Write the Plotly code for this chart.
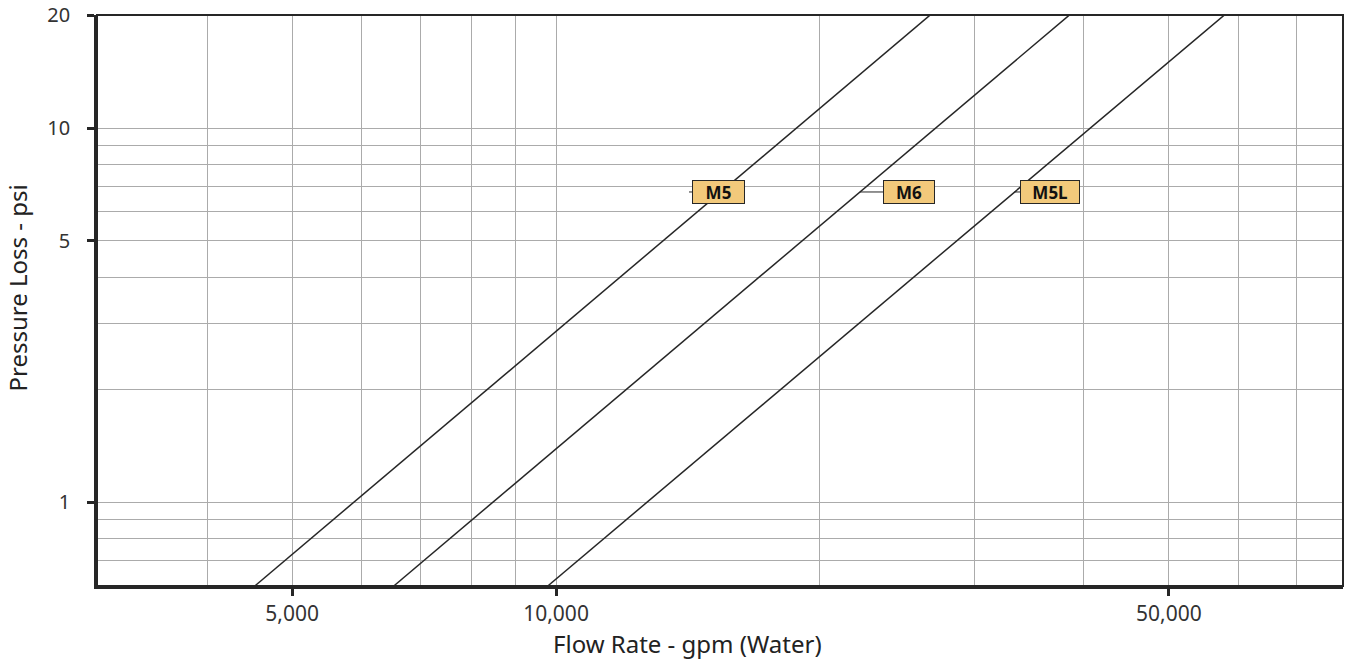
import plotly.graph_objects as go
import math

# Data (pressure loss vs flow rate, log-log)
pressure_psi = [0.6, 20]
m5_flow = [4540, 26680]
m6_flow = [6540, 38460]
m5l_flow = [9800, 57780]

series_names = ["M5", "M6", "M5L"]
series_flows = [m5_flow, m6_flow, m5l_flow]

# label anchor points (flow, psi) and offsets
label_flow = [14180, 22210, 33340]
label_psi = [6.75, 6.75, 6.75]
label_dx = [29.5, 49, 35]
label_w = [49, 48, 56]

x_tickvals = [5000, 10000, 50000]
x_ticktext = ["5,000", "10,000", "50,000"]
x_minor = [4000, 6000, 7000, 8000, 9000, 20000, 30000, 40000, 60000, 70000]
y_tickvals = [1, 5, 10, 20]
y_ticktext = ["1", "5", "10", "20"]
y_minor = [0.6, 0.7, 0.8, 0.9, 2, 3, 4, 6, 7, 8, 9]

x_title = "Flow Rate - gpm (Water)"
y_title = "Pressure Loss - psi"

FONT = "Noto Sans"
DARK = "#262626"
GRID = "#ababab"

fig = go.Figure()
for name, flows in zip(series_names, series_flows):
    fig.add_trace(go.Scatter(x=flows, y=pressure_psi, mode="lines", name=name,
                             line=dict(color=DARK, width=1.5), showlegend=False,
                             hoverinfo="skip"))

for name, fx, py, dx, w in zip(series_names, label_flow, label_psi, label_dx, label_w):
    fig.add_annotation(x=math.log10(fx), y=math.log10(py), xref="x", yref="y",
                       text="<b>" + name + "</b>", showarrow=True, arrowhead=0,
                       arrowwidth=1, arrowcolor=DARK, ax=dx, ay=0, standoff=0,
                       bgcolor="#f2c97b", bordercolor=DARK, borderwidth=1,
                       borderpad=1, width=w, height=20,
                       font=dict(family=FONT, size=17, color="#111"))

# axis titles (positioned as in the reference)
fig.add_annotation(text=x_title, xref="paper", yref="paper", x=0.4743, y=-0.1,
                   xanchor="center", yanchor="middle", showarrow=False,
                   font=dict(family=FONT, size=24, color="#222"))
fig.add_annotation(text=y_title, xref="paper", yref="paper", x=-0.0634, y=0.521,
                   xanchor="center", yanchor="middle", showarrow=False, textangle=-90,
                   font=dict(family=FONT, size=24, color="#222"))

fig.add_shape(type="rect", xref="paper", yref="paper", x0=0, y0=0, x1=1, y1=1,
              line=dict(color=DARK, width=2), layer="above")

fig.update_xaxes(type="log", range=[math.log10(2995), math.log10(79000)],
                 automargin=False,
                 tickvals=x_tickvals, ticktext=x_ticktext, ticks="outside",
                 ticklen=7, tickwidth=2.5, tickcolor=DARK,
                 showgrid=True, gridcolor=GRID, gridwidth=1,
                 minor=dict(tickvals=x_minor, showgrid=True, gridcolor=GRID,
                            gridwidth=1, ticks=""),
                 showline=True, linecolor=DARK, linewidth=2.5, zeroline=False,
                 tickfont=dict(family=FONT, size=21, color="#333"))
fig.update_yaxes(type="log", range=[math.log10(0.598), math.log10(20.05)],
                 automargin=False,
                 tickvals=y_tickvals, ticktext=y_ticktext, ticks="outside",
                 ticklen=7, tickwidth=2.5, tickcolor=DARK,
                 showgrid=True, gridcolor=GRID, gridwidth=1,
                 minor=dict(tickvals=y_minor, showgrid=True, gridcolor=GRID,
                            gridwidth=1, ticks=""),
                 showline=True, linecolor=DARK, linewidth=2.5, zeroline=False,
                 ticklabelstandoff=13,
                 tickfont=dict(family=FONT, size=20, color="#333"))

fig.update_layout(width=1352, height=661, autosize=False,
                  margin=dict(l=97, r=9, t=15, b=75),
                  paper_bgcolor="white", plot_bgcolor="white")

fig.write_html("out.html", config={"displayModeBar": False},
               post_script="document.body.style.margin='0';document.body.style.overflow='hidden';")
